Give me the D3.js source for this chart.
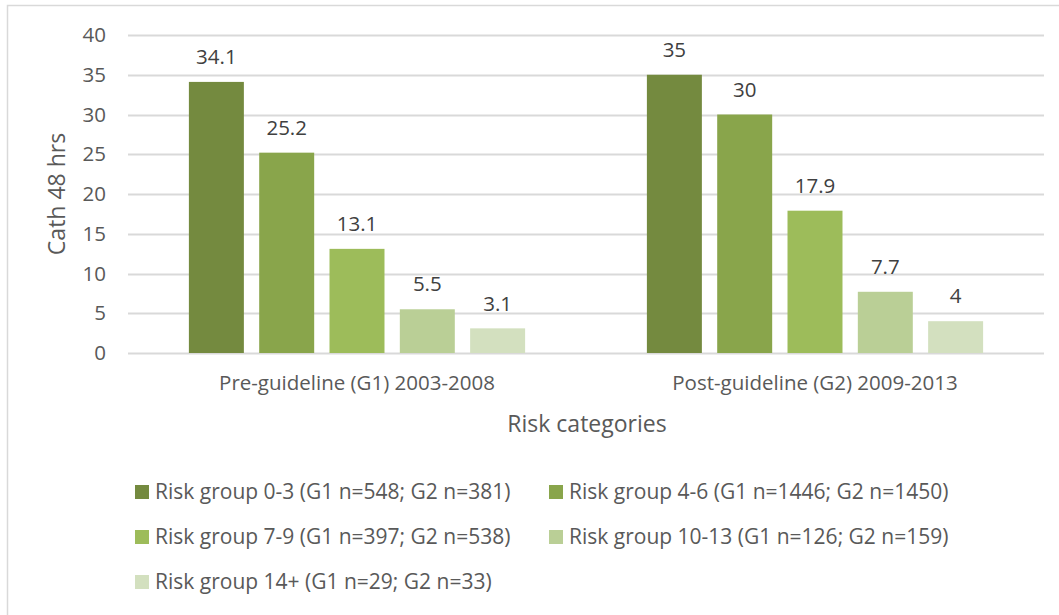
<!DOCTYPE html>
<html>
<head>
<meta charset="utf-8">
<script src="https://cdn.jsdelivr.net/npm/d3@7"></script>
<style>
  html, body { margin: 0; padding: 0; background: #fff; }
  svg { display: block; font-family: "Open Sans", "Noto Sans", sans-serif; }
</style>
</head>
<body>
<svg id="chart" width="1059" height="615"></svg>
<script>
// Periods shown along the x axis
const categories = ["Pre-guideline (G1) 2003-2008", "Post-guideline (G2) 2009-2013"];
// Risk groups (one bar per group inside each period)
const seriesNames = [
  "Risk group 0-3 (G1 n=548; G2 n=381)",
  "Risk group 4-6 (G1 n=1446; G2 n=1450)",
  "Risk group 7-9 (G1 n=397; G2 n=538)",
  "Risk group 10-13 (G1 n=126; G2 n=159)",
  "Risk group 14+ (G1 n=29; G2 n=33)"
];
// Cath within 48 hrs, per risk group: [G1, G2]
const risk0_3   = [34.1, 35];
const risk4_6   = [25.2, 30];
const risk7_9   = [13.1, 17.9];
const risk10_13 = [5.5, 7.7];
const risk14    = [3.1, 4];
const seriesValues = [risk0_3, risk4_6, risk7_9, risk10_13, risk14];
const yTicks = [0, 5, 10, 15, 20, 25, 30, 35, 40];
const colors = ["#748a3f", "#89a54b", "#9dbc5a", "#bacf96", "#d3e0bf"];

const svg = d3.select("#chart");
const textColor = "#595959";
const labelSize = "20.5px";
const legendSize = "21px";
const titleSize = "23px";

// chart frame
svg.append("rect")
  .attr("x", 7.5).attr("y", 5.5).attr("width", 1060).attr("height", 620)
  .attr("fill", "none").attr("stroke", "#d9d9d9").attr("stroke-width", 1.5);

const plot = { left: 128, right: 1044, top: 35, bottom: 353 };

const x0 = d3.scaleBand().domain(categories)
  .range([plot.left, plot.right]).paddingInner(0).paddingOuter(0);
const x1 = d3.scaleBand().domain(d3.range(seriesNames.length))
  .range([0, x0.bandwidth()]).paddingInner(0.218).paddingOuter(0.866);
const y = d3.scaleLinear().domain([0, 40]).range([plot.bottom, plot.top]);

// gridlines
svg.append("g").selectAll("line").data(yTicks).join("line")
  .attr("x1", plot.left).attr("x2", plot.right)
  .attr("y1", d => Math.round(y(d)) + 0.5).attr("y2", d => Math.round(y(d)) + 0.5)
  .attr("stroke", "#d9d9d9").attr("stroke-width", 2);

// y axis labels
const yAxis = d3.axisLeft(y).tickValues(yTicks).tickSize(0).tickPadding(0);
const gy = svg.append("g").attr("transform", `translate(${plot.left - 22},0)`).call(yAxis);
gy.select(".domain").remove();
gy.selectAll("text").attr("fill", textColor).style("font-size", labelSize)
  .style("font-family", "'Open Sans', sans-serif").attr("text-anchor", "end");

// bars
const groups = svg.append("g").selectAll("g").data(categories).join("g")
  .attr("transform", c => `translate(${x0(c)},0)`);

groups.selectAll("rect")
  .data((c, ci) => seriesValues.map((vals, si) => ({ si, v: vals[ci] })))
  .join("rect")
  .attr("x", d => x1(d.si))
  .attr("width", x1.bandwidth())
  .attr("y", d => y(d.v))
  .attr("height", d => y(0) - y(d.v))
  .attr("fill", d => colors[d.si]);

// value labels
groups.selectAll("text")
  .data((c, ci) => seriesValues.map((vals, si) => ({ si, v: vals[ci] })))
  .join("text")
  .attr("x", d => x1(d.si) + x1.bandwidth() / 2)
  .attr("y", d => y(d.v) - 25)
  .attr("dy", "0.35em")
  .attr("text-anchor", "middle")
  .attr("fill", "#404040")
  .style("font-size", labelSize)
  .text(d => d.v);

// x axis labels
const xAxis = d3.axisBottom(x0).tickSize(0).tickPadding(0);
const gx = svg.append("g").attr("transform", `translate(0,${plot.bottom + 30})`).call(xAxis);
gx.select(".domain").remove();
gx.selectAll("text").attr("fill", textColor).style("font-size", labelSize)
  .style("font-family", "'Open Sans', sans-serif").attr("dy", "0.35em").attr("y", 0);

// axis titles
svg.append("text")
  .attr("x", 587).attr("y", 424).attr("dy", "0.35em")
  .attr("text-anchor", "middle").attr("fill", textColor)
  .style("font-size", titleSize).text("Risk categories");

svg.append("text")
  .attr("transform", "translate(57,194) rotate(-90)")
  .attr("dy", "0.35em")
  .attr("text-anchor", "middle").attr("fill", textColor)
  .style("font-size", titleSize).text("Cath 48 hrs");

// legend
const legendPos = [
  [135, 492], [549, 492],
  [135, 537], [549, 537],
  [135, 582]
];
const legend = svg.append("g").selectAll("g").data(seriesNames).join("g")
  .attr("transform", (d, i) => `translate(${legendPos[i][0]},${legendPos[i][1]})`);
legend.append("rect")
  .attr("x", 0).attr("y", -7).attr("width", 14).attr("height", 14)
  .attr("fill", (d, i) => colors[i]);
legend.append("text")
  .attr("x", 20).attr("y", 0).attr("dy", "0.35em")
  .attr("fill", textColor).style("font-size", legendSize)
  .text(d => d);
</script>
</body>
</html>
